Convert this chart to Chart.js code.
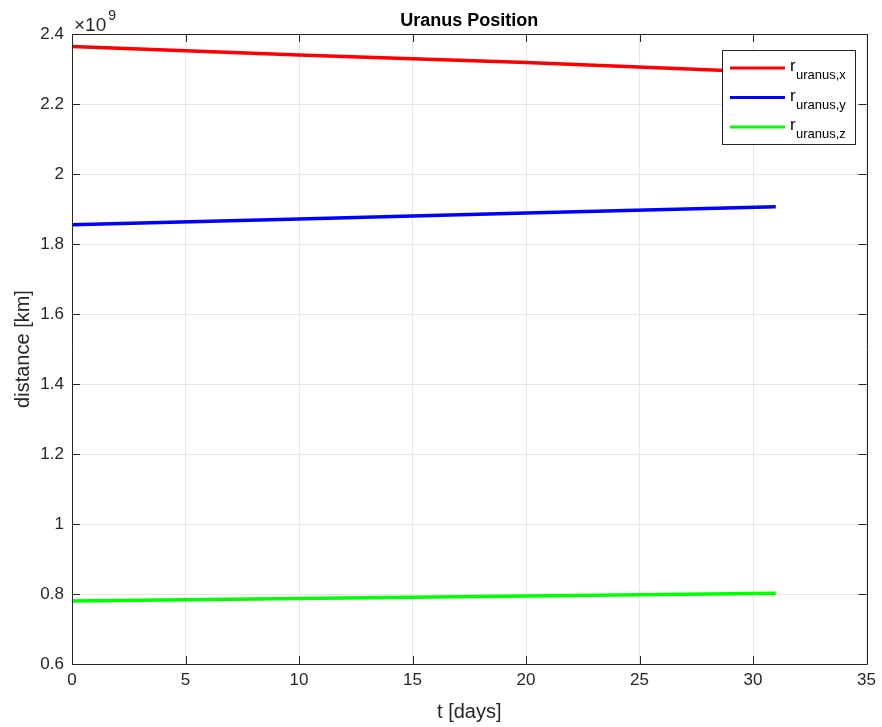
<!DOCTYPE html>
<html>
<head>
<meta charset="utf-8">
<script src="https://cdn.jsdelivr.net/npm/chart.js@4.4.1/dist/chart.umd.min.js"></script>
<style>
  html, body { margin: 0; padding: 0; background: #fff; }
  #wrap { width: 882px; height: 727px; }
</style>
</head>
<body>
<div id="wrap"><canvas id="c" width="882" height="727"></canvas></div>
<script>
// Time samples (days) and Uranus position components (km)
const days = [0, 10, 20, 31];
const rx = [2.3646e9, 2.3400e9, 2.3188e9, 2.2900e9];
const ry = [1.8550e9, 1.8715e9, 1.8885e9, 1.9063e9];
const rz = [0.7800e9, 0.7870e9, 0.7945e9, 0.8020e9];

const seriesNames = ['uranus,x', 'uranus,y', 'uranus,z'];
const seriesColors = ['#ff0000', '#0000ff', '#00ff00'];
const xTicks = [0, 5, 10, 15, 20, 25, 30, 35];
const yTicks = [0.6e9, 0.8e9, 1.0e9, 1.2e9, 1.4e9, 1.6e9, 1.8e9, 2.0e9, 2.2e9, 2.4e9];

const FONT = '"Liberation Sans", Arial, Helvetica, sans-serif';
const AXIS = '#262626';

function toPoints(vals) { return days.map((d, i) => ({ x: d, y: vals[i] })); }

const series = [rx, ry, rz];

// Axes box, inward ticks, title, axis labels, exponent and legend
const decor = {
  id: 'decor',
  afterDatasetsDraw(chart) {
    const { ctx, chartArea: a, scales } = chart;
    const xs = scales.x, ys = scales.y;
    ctx.save();
    ctx.strokeStyle = AXIS;
    ctx.lineWidth = 1;
    ctx.beginPath();
    ctx.rect(Math.round(a.left) + 0.5, Math.round(a.top) + 0.5,
             Math.round(a.right - a.left), Math.round(a.bottom - a.top));
    ctx.stroke();
    const tl = 8;
    ctx.beginPath();
    xTicks.forEach(v => {
      const px = Math.round(xs.getPixelForValue(v)) + 0.5;
      ctx.moveTo(px, a.bottom); ctx.lineTo(px, a.bottom - tl);
      ctx.moveTo(px, a.top); ctx.lineTo(px, a.top + tl);
    });
    yTicks.forEach(v => {
      const py = Math.round(ys.getPixelForValue(v)) + 0.5;
      ctx.moveTo(a.left, py); ctx.lineTo(a.left + tl, py);
      ctx.moveTo(a.right, py); ctx.lineTo(a.right - tl, py);
    });
    ctx.stroke();

    ctx.fillStyle = '#000';
    // Title
    ctx.font = 'bold 18px ' + FONT;
    ctx.textAlign = 'center';
    ctx.textBaseline = 'alphabetic';
    ctx.fillText('Uranus Position', (a.left + a.right) / 2, 26);

    // Axis labels
    ctx.fillStyle = AXIS;
    ctx.font = '20px ' + FONT;
    ctx.fillText('t [days]', (a.left + a.right) / 2, 718);
    ctx.save();
    ctx.translate(29, (a.top + a.bottom) / 2);
    ctx.rotate(-Math.PI / 2);
    ctx.fillText('distance [km]', 0, 0);
    ctx.restore();

    // Exponent
    ctx.textAlign = 'left';
    ctx.font = '19px ' + FONT;
    ctx.fillText('\u00d710', 74, 31);
    const w = ctx.measureText('\u00d710').width;
    ctx.font = '14px ' + FONT;
    ctx.fillText('9', 74 + w + 2, 20);

    // Legend
    const lx = 722.5, ly = 50.5, lw = 133, lh = 94;
    ctx.fillStyle = '#fff';
    ctx.fillRect(lx, ly, lw, lh);
    ctx.strokeStyle = '#262626';
    ctx.lineWidth = 1;
    ctx.strokeRect(lx, ly, lw, lh);
    seriesNames.forEach((name, i) => {
      const cy = 68 + i * 29.5;
      ctx.strokeStyle = seriesColors[i];
      ctx.lineWidth = 3;
      ctx.beginPath();
      ctx.moveTo(730, cy); ctx.lineTo(785, cy);
      ctx.stroke();
      ctx.fillStyle = '#000';
      ctx.font = '17px ' + FONT;
      ctx.fillText('r', 790, cy + 3);
      ctx.font = '13px ' + FONT;
      ctx.fillText(name, 796, cy + 11);
    });
    ctx.restore();
  }
};

new Chart(document.getElementById('c'), {
  type: 'line',
  data: {
    datasets: series.map((vals, i) => ({
      label: 'r_' + seriesNames[i],
      data: toPoints(vals),
      borderColor: seriesColors[i],
      backgroundColor: seriesColors[i],
      borderWidth: 3.5,
      pointRadius: 0,
      tension: 0,
      fill: false
    }))
  },
  options: {
    responsive: false,
    animation: false,
    devicePixelRatio: 1,
    layout: { padding: { left: 0, right: 14, top: 34, bottom: 0 } },
    plugins: { legend: { display: false }, title: { display: false }, tooltip: { enabled: false } },
    scales: {
      x: {
        type: 'linear',
        min: 0, max: 35,
        afterBuildTicks(s) { s.ticks = xTicks.map(v => ({ value: v })); },
        afterFit(s) { s.height = 63; },
        grid: { color: '#e6e6e6', drawTicks: false },
        border: { display: false },
        ticks: { color: AXIS, font: { family: FONT, size: 17 }, padding: 6, maxRotation: 0,
                 callback: v => String(v) }
      },
      y: {
        type: 'linear',
        min: 0.6e9, max: 2.4e9,
        afterBuildTicks(s) { s.ticks = yTicks.map(v => ({ value: v })); },
        afterFit(s) { s.width = 72; },
        grid: { color: '#e6e6e6', drawTicks: false },
        border: { display: false },
        ticks: { color: AXIS, font: { family: FONT, size: 17 }, padding: 8,
                 callback: v => String(Number((v / 1e9).toFixed(1))) }
      }
    }
  },
  plugins: [decor]
});
</script>
</body>
</html>
